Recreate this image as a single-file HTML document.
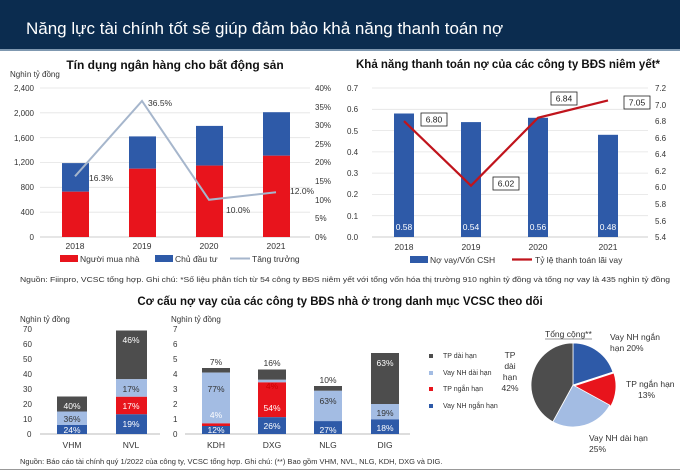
<!DOCTYPE html>
<html><head><meta charset="utf-8"><style>
html,body{margin:0;padding:0;background:#fff}
svg{display:block;font-family:"Liberation Sans","Noto Sans CJK SC",sans-serif}
</style></head><body>
<svg width="680" height="471" viewBox="0 0 680 471" xmlns="http://www.w3.org/2000/svg">
<rect width="680" height="50" fill="#0b2c4f"/>
<rect y="49" width="680" height="2" fill="#7f98b0"/>
<text x="26" y="34" font-size="17" fill="#fff">Năng lực tài chính tốt sẽ giúp đảm bảo khả năng thanh toán nợ</text>

<!-- Chart 1 -->
<text x="175" y="69" font-size="12" font-weight="bold" text-anchor="middle" fill="#111">Tín dụng ngân hàng cho bất động sản</text>
<text x="10" y="77" font-size="8" fill="#333">Nghìn tỷ đồng</text>
<g stroke="#e3e3e3" stroke-width="0.8">
<line x1="40" x2="310" y1="88" y2="88"/><line x1="40" x2="310" y1="112.8" y2="112.8"/><line x1="40" x2="310" y1="137.7" y2="137.7"/><line x1="40" x2="310" y1="162.5" y2="162.5"/><line x1="40" x2="310" y1="187.3" y2="187.3"/><line x1="40" x2="310" y1="212.2" y2="212.2"/>
</g>
<line x1="40" x2="310" y1="237" y2="237" stroke="#ccc"/>
<g font-size="8" fill="#333" text-anchor="end">
<text x="34" y="91">2,400</text><text x="34" y="116">2,000</text><text x="34" y="141">1,600</text><text x="34" y="165">1,200</text><text x="34" y="190">800</text><text x="34" y="215">400</text><text x="34" y="240">0</text>
</g>
<g font-size="8" fill="#333">
<text x="315" y="91">40%</text><text x="315" y="110">35%</text><text x="315" y="128">30%</text><text x="315" y="147">25%</text><text x="315" y="165">20%</text><text x="315" y="184">15%</text><text x="315" y="203">10%</text><text x="315" y="221">5%</text><text x="315" y="240">0%</text>
</g>
<g>
<rect x="62" y="163.1" width="27" height="28.6" fill="#2e5aa8"/><rect x="62" y="191.7" width="27" height="45.3" fill="#e8141c"/>
<rect x="129" y="136.4" width="27" height="32.3" fill="#2e5aa8"/><rect x="129" y="168.7" width="27" height="68.3" fill="#e8141c"/>
<rect x="196" y="125.9" width="27" height="39.7" fill="#2e5aa8"/><rect x="196" y="165.6" width="27" height="71.4" fill="#e8141c"/>
<rect x="263" y="112.2" width="27" height="43.5" fill="#2e5aa8"/><rect x="263" y="155.7" width="27" height="81.3" fill="#e8141c"/>
</g>
<polyline points="75,176.3 142,101 209,199.8 276,192.3" fill="none" stroke="#a6b6cc" stroke-width="2"/>
<g font-size="8.5" fill="#333">
<text x="89" y="181">16.3%</text><text x="148" y="106">36.5%</text><text x="226" y="213">10.0%</text><text x="290" y="194">12.0%</text>
</g>
<g font-size="8.5" fill="#333" text-anchor="middle">
<text x="75" y="249">2018</text><text x="142" y="249">2019</text><text x="209" y="249">2020</text><text x="276" y="249">2021</text>
</g>
<rect x="60" y="255" width="18" height="7" fill="#e8141c"/><text x="80" y="262" font-size="8.5" fill="#333">Người mua nhà</text>
<rect x="155" y="255" width="18" height="7" fill="#2e5aa8"/><text x="175" y="262" font-size="8.5" fill="#333">Chủ đầu tư</text>
<line x1="230" x2="250" y1="258.5" y2="258.5" stroke="#a6b6cc" stroke-width="2"/><text x="252" y="262" font-size="8.5" fill="#333">Tăng trưởng</text>

<!-- Chart 2 -->
<text x="508" y="68" font-size="11.5" font-weight="bold" text-anchor="middle" fill="#111">Khả năng thanh toán nợ của các công ty BĐS niêm yết*</text>
<g stroke="#e3e3e3" stroke-width="0.8">
<line x1="372" x2="648" y1="88" y2="88"/><line x1="372" x2="648" y1="109.3" y2="109.3"/><line x1="372" x2="648" y1="130.6" y2="130.6"/><line x1="372" x2="648" y1="151.9" y2="151.9"/><line x1="372" x2="648" y1="173.1" y2="173.1"/><line x1="372" x2="648" y1="194.4" y2="194.4"/><line x1="372" x2="648" y1="215.7" y2="215.7"/>
</g>
<line x1="372" x2="648" y1="237" y2="237" stroke="#ccc"/>
<g font-size="8" fill="#333">
<text x="347" y="91">0.7</text><text x="347" y="112">0.6</text><text x="347" y="134">0.5</text><text x="347" y="155">0.4</text><text x="347" y="176">0.3</text><text x="347" y="197">0.2</text><text x="347" y="219">0.1</text><text x="347" y="240">0.0</text>
</g>
<g font-size="8" fill="#333">
<text x="655" y="91">7.2</text><text x="655" y="108">7.0</text><text x="655" y="124">6.8</text><text x="655" y="141">6.6</text><text x="655" y="157">6.4</text><text x="655" y="174">6.2</text><text x="655" y="190">6.0</text><text x="655" y="207">5.8</text><text x="655" y="224">5.6</text><text x="655" y="240">5.4</text>
</g>
<g fill="#2e5aa8">
<rect x="394" y="113.5" width="20" height="123.5"/><rect x="461" y="122.1" width="20" height="114.9"/><rect x="528" y="117.8" width="20" height="119.2"/><rect x="598" y="134.8" width="20" height="102.2"/>
</g>
<g font-size="8.5" fill="#fff" text-anchor="middle">
<text x="404" y="230">0.58</text><text x="471" y="230">0.54</text><text x="538" y="230">0.56</text><text x="608" y="230">0.48</text>
</g>
<polyline points="404,121.1 471,185.7 538,117.8 608,100.4" fill="none" stroke="#c0141c" stroke-width="2.2"/>
<g fill="#fff" stroke="#222" stroke-width="0.8">
<rect x="421" y="113" width="26" height="13"/><rect x="493" y="177" width="26" height="13"/><rect x="551" y="92" width="26" height="13"/><rect x="624" y="96" width="26" height="13"/>
</g>
<g font-size="8.5" fill="#222" text-anchor="middle">
<text x="434" y="122.5">6.80</text><text x="506" y="186.5">6.02</text><text x="564" y="101.5">6.84</text><text x="637" y="105.5">7.05</text>
</g>
<g font-size="8.5" fill="#333" text-anchor="middle">
<text x="404" y="250">2018</text><text x="471" y="250">2019</text><text x="538" y="250">2020</text><text x="608" y="250">2021</text>
</g>
<rect x="410" y="256" width="18" height="7" fill="#2e5aa8"/><text x="430" y="263" font-size="8.5" fill="#333">Nợ vay/Vốn CSH</text>
<line x1="512" x2="532" y1="259.5" y2="259.5" stroke="#c0141c" stroke-width="2.2"/><text x="535" y="263" font-size="8.5" fill="#333">Tỷ lệ thanh toán lãi vay</text>

<text x="20" y="282" font-size="7.5" fill="#333" textLength="650" lengthAdjust="spacingAndGlyphs">Nguồn: Fiinpro, VCSC tổng hợp. Ghi chú: *Số liệu phân tích từ 54 công ty BĐS niêm yết với tổng vốn hóa thị trường 910 nghìn tỷ đồng và tổng nợ vay là 435 nghìn tỷ đồng</text>

<!-- Chart 3 -->
<text x="340" y="305" font-size="11.5" font-weight="bold" text-anchor="middle" fill="#111">Cơ cấu nợ vay của các công ty BĐS nhà ở trong danh mục VCSC theo dõi</text>
<text x="20" y="322" font-size="8" fill="#333">Nghìn tỷ đồng</text>
<text x="171" y="322" font-size="8" fill="#333">Nghìn tỷ đồng</text>
<g font-size="8" fill="#333">
<text x="23" y="332">70</text><text x="23" y="347">60</text><text x="23" y="362">50</text><text x="23" y="377">40</text><text x="23" y="392">30</text><text x="23" y="407">20</text><text x="23" y="422">10</text><text x="27" y="437">0</text>
<text x="173" y="332">7</text><text x="173" y="347">6</text><text x="173" y="362">5</text><text x="173" y="377">4</text><text x="173" y="392">3</text><text x="173" y="407">2</text><text x="173" y="422">1</text><text x="173" y="437">0</text>
</g>
<line x1="40" x2="160" y1="434" y2="434" stroke="#bbb"/>
<line x1="185" x2="410" y1="434" y2="434" stroke="#bbb"/>
<rect x="57" y="396.5" width="30" height="15" fill="#4d4d4d"/><rect x="57" y="411.5" width="30" height="13.5" fill="#a3bce3"/><rect x="57" y="425" width="30" height="9" fill="#2e5aa8"/>
<rect x="116" y="330.5" width="31" height="48.7" fill="#4d4d4d"/><rect x="116" y="379.2" width="31" height="17.6" fill="#a3bce3"/><rect x="116" y="396.8" width="31" height="17.5" fill="#e8141c"/><rect x="116" y="414.3" width="31" height="19.7" fill="#2e5aa8"/>
<rect x="202" y="368" width="28" height="4.6" fill="#4d4d4d"/><rect x="202" y="372.6" width="28" height="50.8" fill="#a3bce3"/><rect x="202" y="423.4" width="28" height="2.6" fill="#e8141c"/><rect x="202" y="426" width="28" height="8" fill="#2e5aa8"/>
<rect x="258" y="369.5" width="28" height="10.3" fill="#4d4d4d"/><rect x="258" y="379.8" width="28" height="2.6" fill="#a3bce3"/><rect x="258" y="382.4" width="28" height="34.8" fill="#e8141c"/><rect x="258" y="417.2" width="28" height="16.8" fill="#2e5aa8"/>
<rect x="314" y="386" width="28" height="4.8" fill="#4d4d4d"/><rect x="314" y="390.8" width="28" height="30.3" fill="#a3bce3"/><rect x="314" y="421.1" width="28" height="12.9" fill="#2e5aa8"/>
<rect x="371" y="353" width="28" height="51" fill="#4d4d4d"/><rect x="371" y="404" width="28" height="15.4" fill="#a3bce3"/><rect x="371" y="419.4" width="28" height="14.6" fill="#2e5aa8"/>
<g font-size="8.5" text-anchor="middle">
<text x="72" y="409" fill="#fff">40%</text><text x="72" y="422" fill="#333">36%</text><text x="72" y="433" fill="#fff">24%</text>
<text x="131" y="343" fill="#fff">46%</text><text x="131" y="392" fill="#333">17%</text><text x="131" y="409" fill="#fff">17%</text><text x="131" y="427" fill="#fff">19%</text>
<text x="216" y="365" fill="#333">7%</text><text x="216" y="392" fill="#333">77%</text><text x="216" y="418" fill="#fff">4%</text><text x="216" y="433" fill="#fff">12%</text>
<text x="272" y="366" fill="#333">16%</text><text x="272" y="389" fill="#c00">4%</text><text x="272" y="411" fill="#fff">54%</text><text x="272" y="429" fill="#fff">26%</text>
<text x="328" y="383" fill="#333">10%</text><text x="328" y="404" fill="#333">63%</text><text x="328" y="433" fill="#fff">27%</text>
<text x="385" y="366" fill="#fff">63%</text><text x="385" y="416" fill="#333">19%</text><text x="385" y="431" fill="#fff">18%</text>
</g>
<g font-size="8.5" fill="#333" text-anchor="middle">
<text x="72" y="448">VHM</text><text x="131" y="448">NVL</text><text x="216" y="448">KDH</text><text x="272" y="448">DXG</text><text x="328" y="448">NLG</text><text x="385" y="448">DIG</text>
</g>
<g font-size="7" fill="#333">
<rect x="429" y="354" width="4" height="4" fill="#4d4d4d"/><text x="443" y="358">TP dài hạn</text>
<rect x="429" y="371" width="4" height="4" fill="#a3bce3"/><text x="443" y="375">Vay NH dài hạn</text>
<rect x="429" y="387" width="4" height="4" fill="#e8141c"/><text x="443" y="391">TP ngắn hạn</text>
<rect x="429" y="404" width="4" height="4" fill="#2e5aa8"/><text x="443" y="408">Vay NH ngắn hạn</text>
</g>
<path d="M573,385 L573,343 A42,42 0 0 1 612.9,372 Z" fill="#2e5aa8" stroke="#fff" stroke-width="0.8"/>
<path d="M574,386 L613.9,373 A42,42 0 0 1 610.8,406.2 Z" fill="#e8141c" stroke="#fff" stroke-width="0.8"/>
<path d="M573,385 L609.8,405.2 A42,42 0 0 1 552.8,421.8 Z" fill="#a3bce3" stroke="#fff" stroke-width="0.8"/>
<path d="M573,385 L552.8,421.8 A42,42 0 0 1 573,343 Z" fill="#4d4d4d" stroke="#fff" stroke-width="0.8"/>
<text x="545" y="337" font-size="8.5" fill="#333">Tổng cộng**</text>
<line x1="545" x2="592" y1="339" y2="339" stroke="#333" stroke-width="0.6"/>
<g font-size="8.5" fill="#333">
<text x="610" y="340">Vay NH ngắn</text><text x="610" y="351">hạn 20%</text>
<text x="626" y="387">TP ngắn hạn</text><text x="638" y="398">13%</text>
<text x="589" y="441">Vay NH dài hạn</text><text x="589" y="452">25%</text>
</g>
<g font-size="8.5" fill="#333" text-anchor="middle">
<text x="510" y="358">TP</text><text x="510" y="369">dài</text><text x="510" y="380">hạn</text><text x="510" y="391">42%</text>
</g>
<text x="20" y="464" font-size="7.5" fill="#333">Nguồn: Báo cáo tài chính quý 1/2022 của công ty, VCSC tổng hợp. Ghi chú: (**) Bao gồm VHM, NVL, NLG, KDH, DXG và DIG.</text>
<line x1="0" x2="680" y1="469.5" y2="469.5" stroke="#999" stroke-width="1"/>
</svg>
</body></html>
